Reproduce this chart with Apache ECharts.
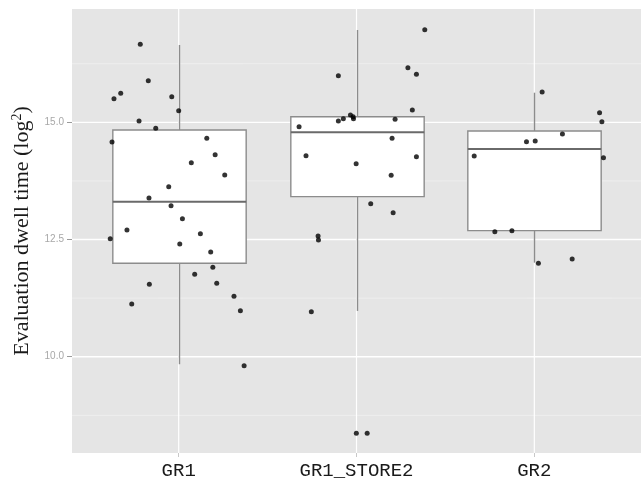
<!DOCTYPE html>
<html>
<head>
<meta charset="utf-8">
<script src="https://cdn.jsdelivr.net/npm/echarts@6/dist/echarts.min.js"></script>
<style>html,body{margin:0;padding:0;background:#fff}#c{width:641px;height:484px}</style>
</head>
<body>
<div id="c"></div>
<script>
// Categories and tick labels
const categories = ['GR1', 'GR1_STORE2', 'GR2'];
const yTickValues = [10, 12.5, 15];
const yMajorGrid = [10, 12.5, 15];
const yMinorGrid = [8.75, 11.25, 13.75, 16.25];

// Box statistics: [category position, lower whisker, Q1, median, Q3, upper whisker]
const boxStats = [
  [1, 9.84, 11.994, 13.307, 14.836, 16.648],
  [2, 10.977, 13.414, 14.787, 15.119, 16.968],
  [3, 12.006, 12.689, 14.431, 14.815, 15.631]
];

// Jittered points: [x position (category + jitter), value]
const pointsGR1 = [
  [0.784,16.663],[0.829,15.887],[0.674,15.618],[0.636,15.503],[0.961,15.546],
  [1.000,15.247],[0.777,15.028],[0.871,14.872],[0.625,14.580],[1.158,14.659],
  [1.205,14.309],[1.071,14.139],[1.259,13.876],[0.944,13.627],[0.833,13.386],
  [0.957,13.222],[1.021,12.945],[0.709,12.704],[0.615,12.518],[1.122,12.625],
  [1.006,12.405],[1.180,12.235],[1.192,11.908],[1.090,11.759],[0.835,11.546],
  [1.214,11.567],[0.736,11.126],[1.311,11.290],[1.347,10.983],[1.368,9.810]
];
const pointsGR1STORE2 = [
  [2.384,16.974],[2.289,16.164],[2.337,16.023],[1.898,15.994],[2.314,15.262],
  [1.966,15.156],[1.981,15.119],[1.983,15.077],[1.926,15.077],[1.898,15.028],
  [2.217,15.064],[1.677,14.906],[2.200,14.659],[1.716,14.288],[2.337,14.267],
  [1.998,14.117],[2.195,13.870],[2.080,13.264],[2.206,13.073],[1.784,12.576],
  [1.786,12.490],[1.746,10.962],[1.999,8.369],[2.060,8.369]
];
const pointsGR2 = [
  [3.044,15.646],[3.367,15.205],[3.380,15.013],[3.158,14.751],[2.956,14.586],
  [3.005,14.601],[2.662,14.281],[3.389,14.245],[2.778,12.667],[2.874,12.689],
  [3.023,11.994],[3.213,12.085]
];

const chart = echarts.init(document.getElementById('c'), null, {renderer: 'canvas'});

function hGrid(color, width) {
  return function (params, api) {
    const cs = params.coordSys;
    const y = api.coord([0.4, api.value(0)])[1];
    return {type: 'line', shape: {x1: cs.x, y1: y, x2: cs.x + cs.width, y2: y},
            style: {stroke: color, lineWidth: width}, silent: true};
  };
}
function vGrid(params, api) {
  const cs = params.coordSys;
  const x = api.coord([api.value(0), 10])[0];
  return {type: 'line', shape: {x1: x, y1: cs.y, x2: x, y2: cs.y + cs.height},
          style: {stroke: '#ffffff', lineWidth: 1.2}, silent: true};
}

function renderBox(params, api) {
  const x = api.value(0);
  const pLow = api.coord([x, api.value(1)]);
  const pQ1 = api.coord([x, api.value(2)]);
  const pMed = api.coord([x, api.value(3)]);
  const pQ3 = api.coord([x, api.value(4)]);
  const pHigh = api.coord([x, api.value(5)]);
  const half = api.size([0.375, 0])[0];
  const cx = Math.round(pQ1[0]) + 0.5;
  const stroke = '#8c8c8c';
  return {
    type: 'group',
    children: [
      {type: 'line', shape: {x1: cx, y1: pHigh[1], x2: cx, y2: pQ3[1]}, style: {stroke: stroke, lineWidth: 1.4}},
      {type: 'line', shape: {x1: cx, y1: pQ1[1], x2: cx, y2: pLow[1]}, style: {stroke: stroke, lineWidth: 1.4}},
      {type: 'rect', shape: {x: cx - half, y: pQ3[1], width: 2 * half, height: pQ1[1] - pQ3[1]},
       style: {fill: '#ffffff', stroke: stroke, lineWidth: 1.4}},
      {type: 'line', shape: {x1: cx - half, y1: pMed[1], x2: cx + half, y2: pMed[1]}, style: {stroke: '#6a6a6a', lineWidth: 2}}
    ]
  };
}

const option = {
  animation: false,
  grid: {left: 72, right: 0, top: 9, bottom: 31, backgroundColor: '#e5e5e5', show: true, borderWidth: 0},
  xAxis: {
    type: 'value', min: 0.4, max: 3.6,
    axisLine: {show: false},
    splitLine: {show: false},
    axisTick: {show: true, length: 4, customValues: [1, 2, 3], lineStyle: {color: '#c8c8c8', width: 1}},
    axisLabel: {
      customValues: [1, 2, 3], margin: 8,
      formatter: function (v) { return categories[Math.round(v) - 1]; },
      fontFamily: '"Liberation Mono", "DejaVu Sans Mono", monospace',
      fontSize: 19, color: '#1a1a1a'
    }
  },
  yAxis: {
    type: 'value', min: 7.947, max: 17.416,
    axisLine: {show: false},
    splitLine: {show: false},
    axisTick: {show: true, length: 5, customValues: yTickValues, lineStyle: {color: '#9a9a9a', width: 1}},
    axisLabel: {
      customValues: yTickValues, margin: 8,
      formatter: function (v) { return v.toFixed(1); },
      fontFamily: 'Liberation Sans, Arial, sans-serif', fontSize: 10, color: '#a8a8a8'
    },
    name: 'Evaluation dwell time (log{s|2})',
    nameLocation: 'middle', nameRotate: 90, nameGap: 37,
    nameTextStyle: {
      fontFamily: '"Liberation Serif", "DejaVu Serif", serif', fontSize: 22, color: '#1a1a1a',
      rich: {s: {fontFamily: '"Liberation Serif", "DejaVu Serif", serif', fontSize: 14, color: '#1a1a1a', verticalAlign: 'top', padding: [0, 0, 10, 0]}}
    }
  },
  series: [
    {type: 'custom', renderItem: hGrid('#f2f2f2', 0.7), data: yMinorGrid.map(v => [v]), z: 1, silent: true, encode: {y: 0}},
    {type: 'custom', renderItem: hGrid('#ffffff', 1.3), data: yMajorGrid.map(v => [v]), z: 1, silent: true, encode: {y: 0}},
    {type: 'custom', renderItem: vGrid, data: [[1], [2], [3]], z: 1, silent: true, encode: {x: 0}},
    {type: 'custom', renderItem: renderBox, data: boxStats, z: 2, encode: {x: 0, y: [1, 2, 3, 4, 5]}},
    {type: 'scatter', data: pointsGR1, symbolSize: 5, itemStyle: {color: '#000'}, z: 3},
    {type: 'scatter', data: pointsGR1STORE2, symbolSize: 5, itemStyle: {color: '#000'}, z: 3},
    {type: 'scatter', data: pointsGR2, symbolSize: 5, itemStyle: {color: '#000'}, z: 3}
  ]
};
chart.setOption(option);
</script>
</body>
</html>
